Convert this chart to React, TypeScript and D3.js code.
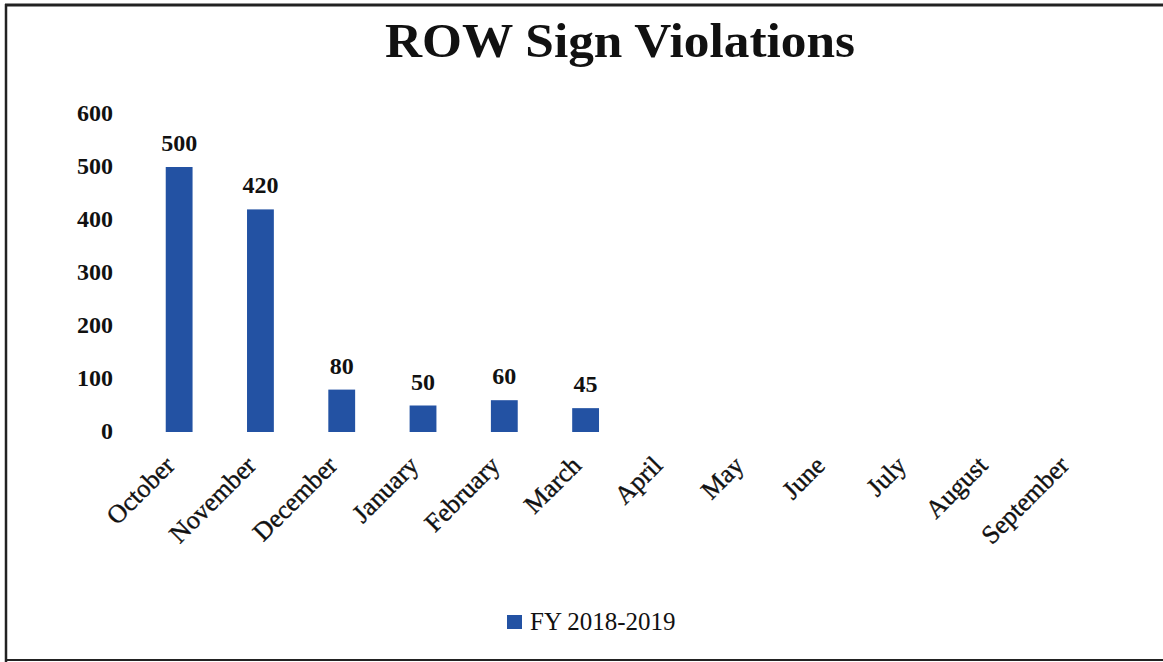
import React from "react";
import * as d3 from "d3";

const months = ["October","November","December","January","February","March","April","May","June","July","August","September"];
const values: (number | null)[] = [500, 420, 80, 50, 60, 45, null, null, null, null, null, null];
const yTicks = [0, 100, 200, 300, 400, 500, 600];
const seriesName = "FY 2018-2019";
const title = "ROW Sign Violations";

const W = 1163, H = 662;
const FONT = "'Liberation Serif', 'DejaVu Serif', serif";
const BAR = "#2352a3";

export default function App() {
  const x = d3.scaleBand<string>().domain(months).range([138.5, 1114]).paddingInner(0.67).paddingOuter(0.335);
  const y = d3.scaleLinear().domain([0, 600]).range([432, 114]);
  return (
    <svg width={W} height={H} style={{ position: "absolute", left: 0, top: 0, background: "#fff" }} fontFamily={FONT}>
      <rect x={0} y={0} width={W} height={H} fill="#fff" />
      <line x1={5} y1={5} x2={W} y2={5} stroke="#222" strokeWidth={3} />
      <line x1={6} y1={4} x2={6} y2={H} stroke="#222" strokeWidth={2.5} />
      <line x1={5} y1={660} x2={W} y2={660} stroke="#222" strokeWidth={2} />
      <text x={620} y={57} textAnchor="middle" fontSize={49} fontWeight="bold" fill="#111" textLength={470} lengthAdjust="spacingAndGlyphs">{title}</text>
      {yTicks.map((t) => (
        <text key={t} x={113} y={y(t) + 7} textAnchor="end" fontSize={24} fontWeight="bold" fill="#111">{t}</text>
      ))}
      {months.map((m, i) => {
        const v = values[i];
        const bx = x(m)!;
        const cx = bx + x.bandwidth() / 2;
        return (
          <g key={m}>
            {v != null && (
              <>
                <rect x={bx} y={y(v)} width={x.bandwidth()} height={y(0) - y(v)} fill={BAR} />
                <text x={cx} y={y(v) - 16} textAnchor="middle" fontSize={24} fontWeight="bold" fill="#111">{v}</text>
              </>
            )}
            <text transform={`translate(${cx - 3},${467}) rotate(-45)`} textAnchor="end" fontSize={26} fill="#111" stroke="#111" strokeWidth={0.4}>{m}</text>
          </g>
        );
      })}
      <rect x={507} y={615} width={15} height={14} fill={BAR} />
      <text x={530} y={630} fontSize={25} fill="#111">{seriesName}</text>
    </svg>
  );
}
